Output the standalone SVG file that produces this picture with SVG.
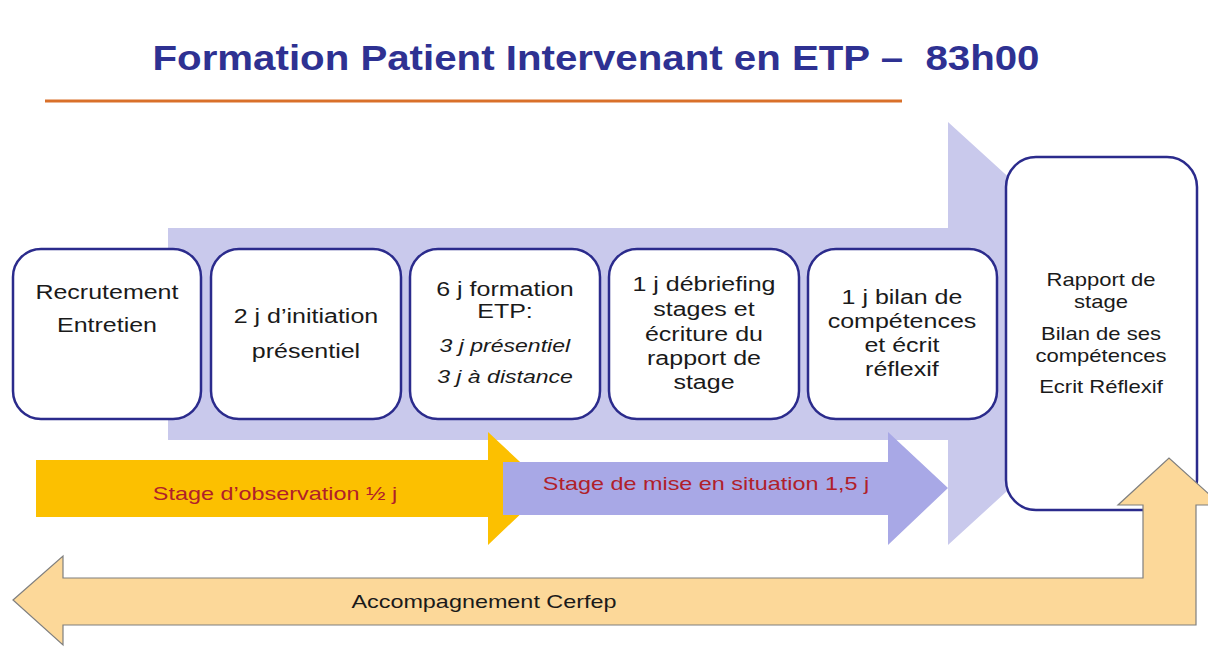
<svg xmlns="http://www.w3.org/2000/svg" width="1208" height="648" viewBox="0 0 1208 648">
<style>
.box{fill:#ffffff;stroke:#2b2b8c;stroke-width:2.5}
.t{font-family:"Liberation Sans",Arial,sans-serif;font-size:20px;fill:#1a1a1a;text-anchor:middle;transform-box:fill-box;transform-origin:center;transform:scaleX(1.25)}
.r{font-size:19px;transform:scaleX(1.16)}
.ti{font-style:italic;font-size:18px;transform:scaleX(1.28)}
.lbl{font-family:"Liberation Sans",Arial,sans-serif;font-size:18px;fill:#b0202a;text-anchor:middle;transform-box:fill-box;transform-origin:center;transform:scaleX(1.3)}
</style>
<rect width="1208" height="648" fill="#ffffff"/>
<g id="title">
<text x="596" y="70" font-family="Liberation Sans,Arial,sans-serif" font-weight="bold" font-size="35" fill="#2e3192" text-anchor="middle" textLength="887" lengthAdjust="spacingAndGlyphs">Formation Patient Intervenant en ETP – &#160;83h00</text>
<line x1="45" y1="101" x2="902" y2="101" stroke="#d9702a" stroke-width="3"/>
</g>
<g id="connectors">
<polygon id="main-arrow" points="168,228 948,228 948,122 1180,333 948,545 948,440 168,440" fill="#c9c9ec"/>
<polygon id="obs-arrow" points="36,460 488,460 488,432 548,488 488,545 488,517 36,517" fill="#fcc000"/>
<polygon id="mise-arrow" points="503,462 888,462 888,432 948,488 888,545 888,515 503,515" fill="#a8a8e6"/>
</g>
<g id="n1"><rect class="box" x="13" y="249" width="188" height="170" rx="28"/>
<text class="t" x="107" y="299">Recrutement</text><text class="t" x="107" y="332">Entretien</text></g>
<g id="n2"><rect class="box" x="211" y="249" width="190" height="170" rx="28"/>
<text class="t" x="306" y="323">2 j d’initiation</text><text class="t" x="306" y="358">présentiel</text></g>
<g id="n3"><rect class="box" x="410" y="249" width="190" height="170" rx="28"/>
<text class="t" x="505" y="296">6 j formation</text><text class="t" x="505" y="318">ETP:</text>
<text class="t ti" x="505" y="352">3 j présentiel</text><text class="t ti" x="505" y="383">3 j à distance</text></g>
<g id="n4"><rect class="box" x="609" y="249" width="190" height="170" rx="28"/>
<text class="t" x="704" y="291">1 j débriefing</text><text class="t" x="704" y="316">stages et</text><text class="t" x="704" y="341">écriture du</text><text class="t" x="704" y="365">rapport de</text><text class="t" x="704" y="389">stage</text></g>
<g id="n5"><rect class="box" x="808" y="249" width="189" height="170" rx="28"/>
<text class="t" x="902" y="304">1 j bilan de</text><text class="t" x="902" y="328">compétences</text><text class="t" x="902" y="352">et écrit</text><text class="t" x="902" y="376">réflexif</text></g>
<g id="n6"><rect class="box" x="1006" y="157" width="191" height="353" rx="30"/>
<text class="t r" x="1101" y="286">Rapport de</text><text class="t r" x="1101" y="308">stage</text><text class="t r" x="1101" y="340">Bilan de ses</text><text class="t r" x="1101" y="362">compétences</text><text class="t r" x="1101" y="393">Ecrit Réflexif</text></g>
<g id="labels">
<text class="lbl" x="275" y="500">Stage d’observation ½ j</text>
<text class="lbl" x="706" y="490">Stage de mise en situation 1,5 j</text>
</g>
<g id="cerfep">
<polygon points="13,600 63,556 63,578 1143,578 1143,505 1118,505 1169,458 1221,505 1196,505 1196,625 63,625 63,645" fill="#fcd899" stroke="#7f7f7f" stroke-width="1.2"/>
<text class="lbl" x="484" y="608" style="fill:#1a1a1a">Accompagnement Cerfep</text>
</g>
</svg>
